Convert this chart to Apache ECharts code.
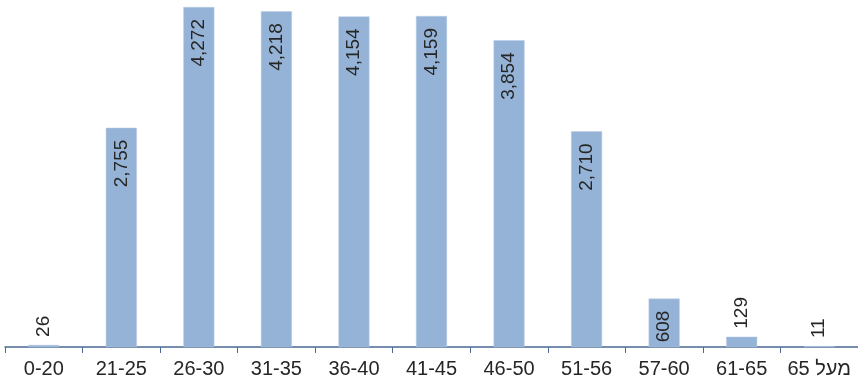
<!DOCTYPE html>
<html><head><meta charset="utf-8">
<script src="https://cdn.jsdelivr.net/npm/echarts@6/dist/echarts.min.js"></script>
<style>html,body{margin:0;padding:0;background:#fff}#c{width:858px;height:389px}</style>
</head><body><div id="c"></div>
<script>
const categories = ['0-20','21-25','26-30','31-35','36-40','41-45','46-50','51-56','57-60','61-65','מעל 65'];
const values = [26, 2755, 4272, 4218, 4154, 4159, 3854, 2710, 608, 129, 11];
const insideThreshold = 500;

const chart = echarts.init(document.getElementById('c'));
const data = values.map(v => {
  const inside = v > insideThreshold;
  return {
    value: v,
    label: inside
      ? { position: 'insideTop', align: 'right', verticalAlign: 'middle', distance: 12 }
      : { position: 'top', align: 'left', verticalAlign: 'middle', distance: 8 }
  };
});
chart.setOption({
  animation: false,
  grid: { left: 5, right: 0, top: 7, bottom: 42, containLabel: false },
  xAxis: {
    type: 'category', data: categories,
    axisLine: { lineStyle: { color: '#4A6A92', width: 1.5 } },
    axisTick: { show: true, lineStyle: { color: '#4A6A92' }, length: 6 },
    axisLabel: { color: '#262626', fontSize: 20, fontFamily: 'Liberation Sans, Arial, sans-serif', margin: 12, interval: 0 }
  },
  yAxis: { type: 'value', min: 0, max: 4272, show: false, splitLine: { show: false } },
  series: [{
    type: 'bar', data: data, barWidth: '40%',
    itemStyle: { color: '#95B3D7', borderColor: '#B9CDE6', borderWidth: 0.5 },
    label: {
      show: true, rotate: 90, color: '#262626', fontSize: 19,
      fontFamily: 'Liberation Sans, Arial, sans-serif',
      formatter: p => p.value.toLocaleString('en-US')
    }
  }]
});
</script></body></html>
